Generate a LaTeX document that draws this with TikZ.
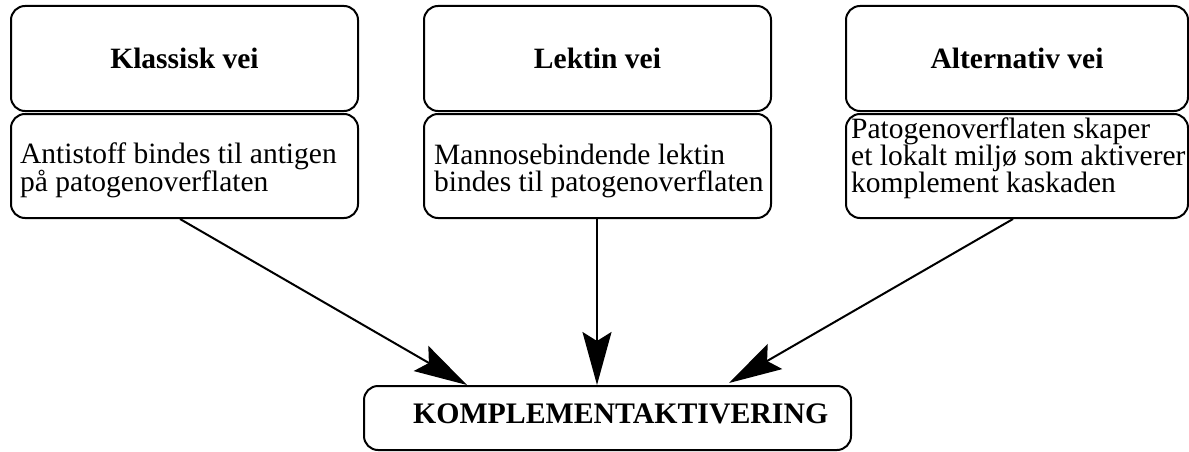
\documentclass[tikz,border=0pt]{standalone}
\usepackage{fontspec}
\setmainfont{Liberation Serif}[Ligatures=NoCommon]
\usetikzlibrary{arrows.meta}
\begin{document}
\begin{tikzpicture}[x=1pt,y=-1pt,
  box/.style={draw, line width=2pt, rounded corners=14pt, inner sep=0pt, anchor=north west},
  ttl/.style={font=\bfseries\fontsize{29.5}{29}\selectfont, inner sep=0pt},
  body/.style={font=\fontsize{29.5}{28}\selectfont, inner sep=0pt, anchor=base west},
  arr/.style={line width=2pt, -{Stealth[length=53pt,width=29pt,inset=9pt]}}]
\useasboundingbox (0,0) rectangle (1189,452);
% top boxes
\node[box, minimum width=347pt, minimum height=105pt] (t1) at (10,5) {};
\node[box, minimum width=347pt, minimum height=104pt] (b1) at (10,113) {};
\node[box, minimum width=347pt, minimum height=105pt] (t2) at (423,5) {};
\node[box, minimum width=347pt, minimum height=104pt] (b2) at (423,113) {};
\node[box, minimum width=342pt, minimum height=105pt] (t3) at (845,5) {};
\node[box, minimum width=342pt, minimum height=104pt] (b3) at (845,113) {};
\node[box, minimum width=487pt, minimum height=64pt] (k) at (363,385) {};
% titles
\node[ttl] (tt1) at (t1.center) {Klassisk vei};
\node[ttl] (tt2) at (t2.center) {Lektin vei};
\node[ttl] (tt3) at (t3.center) {Alternativ vei};
% body texts
\node[body] (l11) at (20,163) {Antistoff bindes til antigen};
\node[body] (l12) at (20,191) {på patogenoverflaten};
\node[body] (l21) at (434,164) {Mannosebindende lektin};
\node[body] (l22) at (434,191) {bindes til patogenoverflaten};
\node[body] (l31) at (851,138) {Patogenoverflaten skaper};
\node[body] (l32) at (851,165) {et lokalt miljø som aktiverer};
\node[body] (l33) at (851,192) {komplement kaskaden};
\node[font=\bfseries\fontsize{29.8}{29}\selectfont, inner sep=0pt, anchor=base west] (kt) at (413,423) {KOMPLEMENTAKTIVERING};
% connectors
\path (b1.south west) ++(170,0) coordinate (s1);
\path (b2.south west) ++(174,0) coordinate (s2);
\path (b3.south west) ++(168,0) coordinate (s3);
\path (k.north west) ++(104,0) coordinate (e1);
\path (k.north west) ++(234,0) coordinate (e2);
\path (k.north west) ++(366,-2) coordinate (e3);
\draw[arr] (s1) -- (e1);
\draw[arr] (s2) -- (e2);
\draw[arr] (s3) -- (e3);
\end{tikzpicture}
\end{document}
